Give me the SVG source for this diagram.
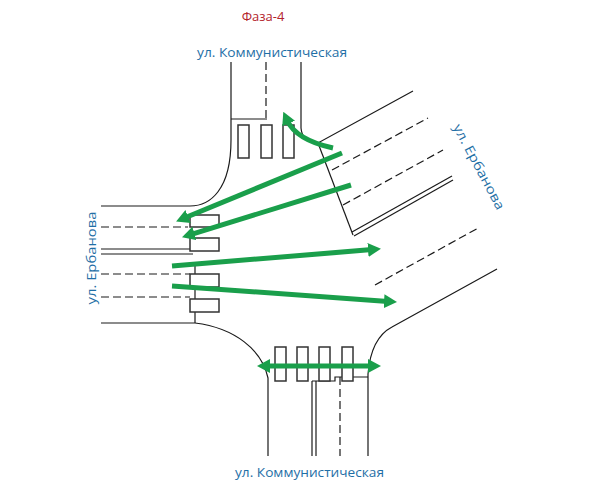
<svg xmlns="http://www.w3.org/2000/svg" width="600" height="492" viewBox="0 0 600 492">
<style>
.edge{fill:none;stroke:#1a1a1a;stroke-width:1.2}
.dash{fill:none;stroke:#1a1a1a;stroke-width:1.2;stroke-dasharray:8 4}
.zebra{fill:#fff;stroke:#333;stroke-width:1.5}
.mv{fill:none;stroke:#1a9f4b;stroke-width:5}
.street{font-family:"Open Sans","Noto Sans","Liberation Sans",sans-serif;font-size:13px;fill:#1f6fa6}
.title{font-family:"Open Sans","Noto Sans","Liberation Sans",sans-serif;font-size:13px;fill:#b3232b}
</style>
<defs>
<marker id="ah" markerUnits="userSpaceOnUse" markerWidth="13" markerHeight="14" refX="4" refY="7" orient="auto-start-reverse" viewBox="0 0 13 14">
<path d="M0,0 L13,7 L0,14 z" fill="#1a9f4b"/>
</marker>
</defs>
<rect width="600" height="492" fill="#fff"/>

<g id="road-north">
<path class="edge" d="M231,62 L231,140 C231,190 210,206 190,206 L101,206"/>
<path class="edge" d="M231,119 L267,119"/>
<path class="dash" d="M266,62 L266,119"/>
<path class="edge" d="M301,62 L301,128 Q302,142 318,143 L413,91"/>
</g>

<g id="road-east">
<path class="edge" d="M318,143 L353,235"/>
<path class="dash" d="M332,170 L428,118"/>
<path class="dash" d="M343,205 L443,150"/>
<path class="edge" d="M352,232 L452,176"/>
<path class="edge" d="M354,236 L453,180"/>
<path class="dash" d="M375,285 L480,227"/>
<path class="edge" d="M368,456 L368,374 Q371,338 392,327 L497,269"/>
</g>

<g id="road-west">
<path class="dash" d="M101,227 L188,227"/>
<path class="edge" d="M101,249 L190,249"/>
<path class="edge" d="M101,254 L193,254"/>
<path class="dash" d="M101,274 L190,274"/>
<path class="dash" d="M101,297 L190,297"/>
<path class="edge" d="M195,265 L195,323"/>
<path class="edge" d="M101,323 L195,323 C235,328 262,350 268,378 L268,456"/>
</g>

<g id="road-south">
<path class="edge" d="M312,381 L335,381 L335,377 L368,377"/>
<path class="edge" d="M312,381 L312,456"/>
<path class="edge" d="M316,381 L316,456"/>
<path class="dash" d="M340,377 L340,456"/>
</g>

<g id="crosswalk-north">
<rect class="zebra" x="238" y="125" width="11" height="33"/>
<rect class="zebra" x="261" y="125" width="11" height="33"/>
<rect class="zebra" x="283" y="125" width="11" height="33"/>
</g>

<g id="crosswalk-west">
<rect class="zebra" x="190" y="215" width="29" height="12"/>
<rect class="zebra" x="190" y="238" width="29" height="13"/>
<rect class="zebra" x="190" y="274" width="29" height="13"/>
<rect class="zebra" x="190" y="299" width="29" height="13"/>
</g>

<g id="crosswalk-south">
<rect class="zebra" x="275" y="347" width="11" height="34"/>
<rect class="zebra" x="297" y="347" width="11" height="34"/>
<rect class="zebra" x="319" y="347" width="11" height="34"/>
<rect class="zebra" x="342" y="347" width="11" height="34"/>
</g>

<g id="labels">
<text class="title" x="263" y="21" text-anchor="middle">Фаза-4</text>
<text class="street" x="197" y="57" textLength="150" lengthAdjust="spacingAndGlyphs">ул. Коммунистическая</text>
<text class="street" x="235" y="477" textLength="149" lengthAdjust="spacingAndGlyphs">ул. Коммунистическая</text>
<text class="street" transform="translate(96,258) rotate(-90)" text-anchor="middle" textLength="93" lengthAdjust="spacingAndGlyphs">ул. Ербанова</text>
<text class="street" transform="translate(475,169) rotate(62)" text-anchor="middle" textLength="95" lengthAdjust="spacingAndGlyphs">ул. Ербанова</text>
</g>

<g id="connectors">
<path class="mv" d="M333,148 Q296,140 287,120" marker-end="url(#ah)"/>
<path class="mv" d="M342,153 L184.4,218" marker-end="url(#ah)"/>
<path class="mv" d="M351,185 L190.6,234.6" marker-end="url(#ah)"/>
<path class="mv" d="M172,266 L372,249.6" marker-end="url(#ah)"/>
<path class="mv" d="M172,286 L388,301.4" marker-end="url(#ah)"/>
<path class="mv" d="M266,366 L372,366" marker-start="url(#ah)" marker-end="url(#ah)"/>
</g>
</svg>
